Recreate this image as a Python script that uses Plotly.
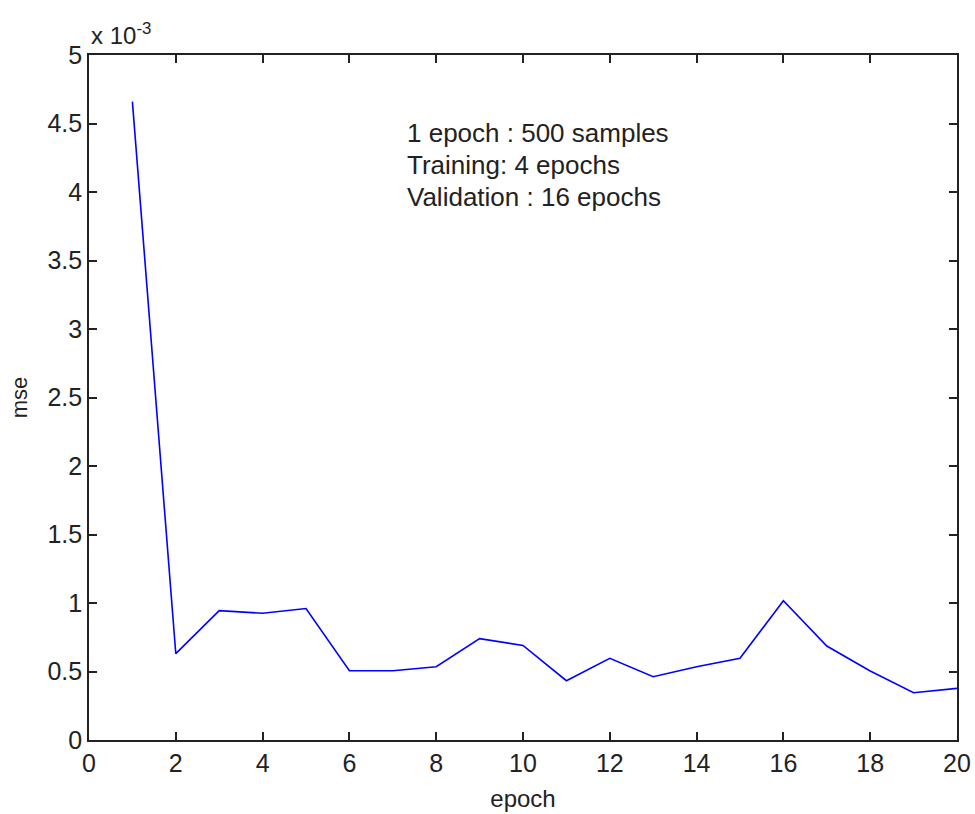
import plotly.graph_objects as go

epochs = list(range(1, 21))
mse_e3 = [4.66, 0.63, 0.944, 0.925, 0.96, 0.505, 0.505, 0.535, 0.74, 0.69,
          0.433, 0.596, 0.462, 0.535, 0.596, 1.017, 0.686, 0.504, 0.345, 0.377]

x_ticks = list(range(0, 21, 2))
y_ticks = [0, 0.5, 1, 1.5, 2, 2.5, 3, 3.5, 4, 4.5, 5]
y_ticktext = ["0", "0.5", "1", "1.5", "2", "2.5", "3", "3.5", "4", "4.5", "5"]
note_lines = ["1 epoch : 500 samples", "Training: 4 epochs", "Validation : 16 epochs"]
note_y = [4.43, 4.195, 3.96]

FONT = "Liberation Sans, Arial, sans-serif"
AX = "#222222"
TXT = "#222222"

fig = go.Figure()
fig.add_trace(go.Scatter(x=epochs, y=mse_e3, mode="lines",
                         line=dict(color="#0000ff", width=1.6), showlegend=False))

axis_common = dict(showline=True, linecolor=AX, linewidth=1.6, mirror="ticks",
                   ticks="inside", ticklen=8, tickwidth=1.6, tickcolor=AX,
                   showgrid=False, zeroline=False, automargin=False,
                   tickfont=dict(family=FONT, size=25, color=TXT))

fig.update_xaxes(range=[0, 20], tickvals=x_ticks,
                 title=dict(text="epoch", font=dict(family=FONT, size=24, color=TXT), standoff=14),
                 **axis_common)
fig.update_yaxes(range=[0, 5], tickvals=y_ticks, ticktext=y_ticktext,
                 title=dict(text="mse", font=dict(family=FONT, size=22, color=TXT), standoff=14),
                 **axis_common)

fig.add_annotation(xref="paper", yref="paper", x=0, y=1, xanchor="left", yanchor="bottom",
                   text="x 10<sup>-3</sup>", showarrow=False, yshift=4,
                   font=dict(family=FONT, size=24, color=TXT))

for line, yv in zip(note_lines, note_y):
    fig.add_annotation(xref="x", yref="y", x=7.29, y=yv, xanchor="left", yanchor="middle",
                       text=line, showarrow=False, align="left",
                       font=dict(family=FONT, size=26, color=TXT))

fig.update_layout(width=975, height=814, paper_bgcolor="white", plot_bgcolor="white",
                  margin=dict(l=89, r=18, t=55, b=74))

fig.write_html("out.html")
